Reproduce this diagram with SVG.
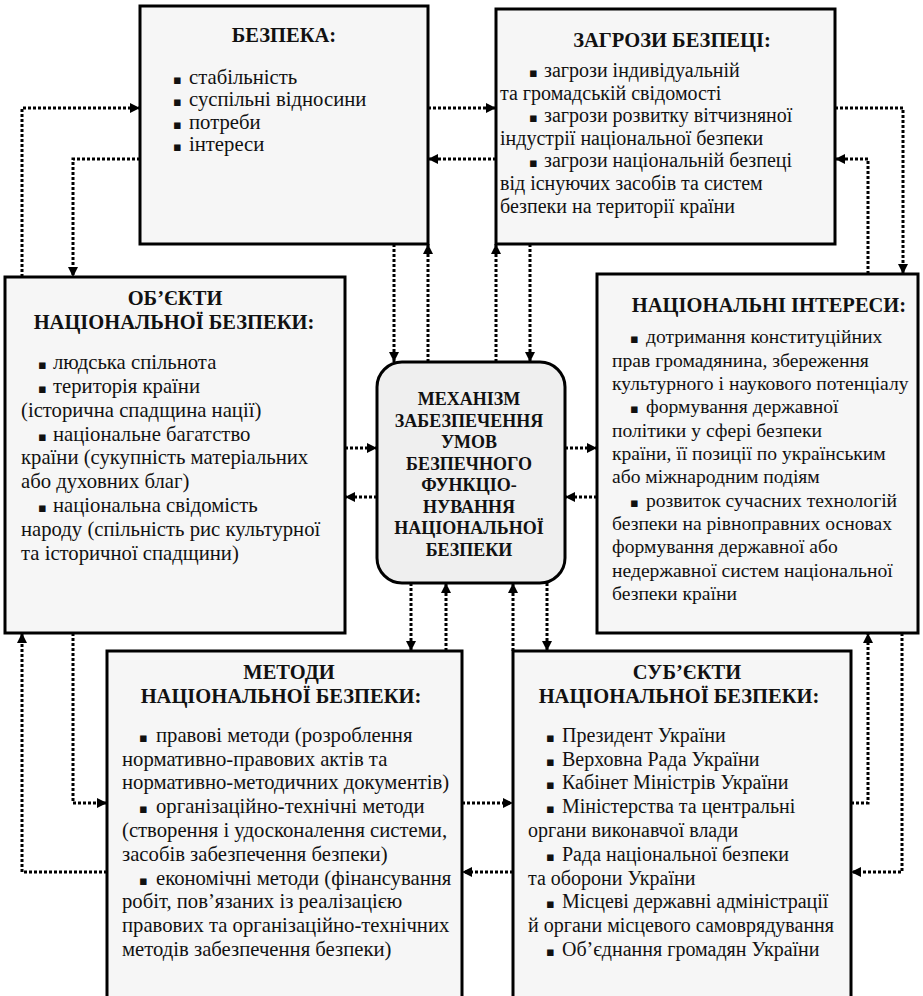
<svg xmlns="http://www.w3.org/2000/svg" width="923" height="996" viewBox="0 0 923 996">
  <defs>
    <marker id="ah" viewBox="0 0 10 10" refX="10" refY="5" markerWidth="10" markerHeight="10" markerUnits="userSpaceOnUse" orient="auto">
      <path d="M0,0 L10,5 L0,10 z" fill="#000"/>
    </marker>
    <style>
      .box { fill: #f6f6f6; stroke: #000; stroke-width: 3; }
      .core { fill: #efefef; stroke: #000; stroke-width: 3; }
      .link { fill: none; stroke: #000; stroke-width: 3; stroke-dasharray: 3 2; marker-end: url(#ah); }
      text { font-family: "Liberation Serif", "Times New Roman", serif; fill: #111; }
      .t { font-size: 20px; }
      .n { font-size: 19.6px; }
      .w { font-size: 20.7px; }
      .h { font-size: 20.5px; font-weight: bold; text-anchor: middle; }
      .m { font-size: 18px; font-weight: bold; text-anchor: middle; }
      .b { font-family: "DejaVu Sans", sans-serif; font-size: 13px; }
    </style>
  </defs>
  <rect width="923" height="996" fill="#fff"/>

  <!-- dotted connectors -->
  <g id="connectors">
    <path class="link" d="M22,277 V108 H140"/>
    <path class="link" d="M140,159 H73 V277"/>
    <path class="link" d="M428,108 H496"/>
    <path class="link" d="M496,159 H428"/>
    <path class="link" d="M835,108 H903 V274"/>
    <path class="link" d="M868,274 V159 H835"/>
    <path class="link" d="M394,244 V362"/>
    <path class="link" d="M428,362 V244"/>
    <path class="link" d="M496,362 V244"/>
    <path class="link" d="M530,244 V362"/>
    <path class="link" d="M345,448 H377"/>
    <path class="link" d="M377,497 H345"/>
    <path class="link" d="M565,448 H597"/>
    <path class="link" d="M597,497 H565"/>
    <path class="link" d="M411,583 V651"/>
    <path class="link" d="M446,651 V583"/>
    <path class="link" d="M513,651 V583"/>
    <path class="link" d="M547,583 V651"/>
    <path class="link" d="M73,633 V803 H107"/>
    <path class="link" d="M107,872 H22 V633"/>
    <path class="link" d="M462,803 H513"/>
    <path class="link" d="M513,872 H462"/>
    <path class="link" d="M851,803 H868 V633"/>
    <path class="link" d="M902,633 V872 H851"/>
  </g>

  <g id="security">
    <rect class="box" x="140" y="6" width="288" height="238"/>
    <text class="h" x="284" y="42">БЕЗПЕКА:</text>
    <text class="b" x="173" y="84">▪</text><text class="w" x="189" y="84">стабільність</text>
    <text class="b" x="173" y="106.3">▪</text><text class="w" x="189" y="106.3">суспільні відносини</text>
    <text class="b" x="173" y="128.6">▪</text><text class="w" x="189" y="128.6">потреби</text>
    <text class="b" x="173" y="151">▪</text><text class="w" x="189" y="151">інтереси</text>
  </g>

  <g id="threats">
    <rect class="box" x="496" y="9" width="339" height="235"/>
    <text class="h" x="672" y="47">ЗАГРОЗИ БЕЗПЕЦІ:</text>
    <text class="b" x="529" y="77">▪</text><text class="t" x="544" y="77">загрози індивідуальній</text>
    <text class="t" x="500" y="99.6">та громадській свідомості</text>
    <text class="b" x="529" y="122.2">▪</text><text class="t" x="544" y="122.2">загрози розвитку вітчизняної</text>
    <text class="t" x="500" y="144.8">індустрії національної безпеки</text>
    <text class="b" x="529" y="167.4">▪</text><text class="t" x="544" y="167.4">загрози національній безпеці</text>
    <text class="t" x="500" y="190">від існуючих засобів та систем</text>
    <text class="t" x="500" y="212.6">безпеки на території країни</text>
  </g>

  <g id="objects">
    <rect class="box" x="5" y="277" width="340" height="356"/>
    <text class="h" x="175" y="305">ОБ’ЄКТИ</text>
    <text class="h" x="174" y="329">НАЦІОНАЛЬНОЇ БЕЗПЕКИ:</text>
    <text class="b" x="38" y="369">▪</text><text class="w" x="53" y="369">людська спільнота</text>
    <text class="b" x="38" y="393">▪</text><text class="w" x="53" y="393">територія країни</text>
    <text class="w" x="21" y="417">(історична спадщина нації)</text>
    <text class="b" x="38" y="440.5">▪</text><text class="w" x="53" y="440.5">національне багатство</text>
    <text class="w" x="21" y="464">країни (сукупність матеріальних</text>
    <text class="w" x="21" y="488">або духовних благ)</text>
    <text class="b" x="38" y="512">▪</text><text class="w" x="53" y="512">національна свідомість</text>
    <text class="w" x="21" y="536">народу (спільність рис культурної</text>
    <text class="w" x="21" y="559.5">та історичної спадщини)</text>
  </g>

  <g id="mechanism">
    <rect class="core" x="377" y="362" width="188" height="221" rx="25" ry="25"/>
    <text class="m" x="469" y="405">МЕХАНІЗМ</text>
    <text class="m" x="469" y="426.5">ЗАБЕЗПЕЧЕННЯ</text>
    <text class="m" x="469" y="448">УМОВ</text>
    <text class="m" x="469" y="469.5">БЕЗПЕЧНОГО</text>
    <text class="m" x="469" y="491">ФУНКЦІО-</text>
    <text class="m" x="469" y="512.5">НУВАННЯ</text>
    <text class="m" x="469" y="534">НАЦІОНАЛЬНОЇ</text>
    <text class="m" x="469" y="555.5">БЕЗПЕКИ</text>
  </g>

  <g id="interests">
    <rect class="box" x="597" y="274" width="321" height="359"/>
    <text class="h" x="769" y="312">НАЦІОНАЛЬНІ ІНТЕРЕСИ:</text>
    <text class="b" x="630" y="343">▪</text><text class="n" x="646" y="343">дотримання конституційних</text>
    <text class="n" x="612" y="366.5">прав громадянина, збереження</text>
    <text class="n" x="612" y="390">культурного і наукового потенціалу</text>
    <text class="b" x="630" y="413">▪</text><text class="n" x="646" y="413">формування державної</text>
    <text class="n" x="612" y="436.5">політики у сфері безпеки</text>
    <text class="n" x="612" y="460">країни, її позиції по українським</text>
    <text class="n" x="612" y="483">або міжнародним подіям</text>
    <text class="b" x="630" y="506.5">▪</text><text class="n" x="646" y="506.5">розвиток сучасних технологій</text>
    <text class="n" x="612" y="530">безпеки на рівноправних основах</text>
    <text class="n" x="612" y="553">формування державної або</text>
    <text class="n" x="612" y="576.5">недержавної систем національної</text>
    <text class="n" x="612" y="600">безпеки країни</text>
  </g>

  <g id="methods">
    <rect class="box" x="107" y="651" width="355" height="370"/>
    <text class="h" x="289" y="679">МЕТОДИ</text>
    <text class="h" x="281" y="703">НАЦІОНАЛЬНОЇ БЕЗПЕКИ:</text>
    <text class="b" x="139" y="741.7">▪</text><text class="w" x="156" y="741.7">правові методи (розроблення</text>
    <text class="w" x="122" y="765.7">нормативно-правових актів та</text>
    <text class="w" x="122" y="789.3">нормативно-методичних документів)</text>
    <text class="b" x="139" y="813.3">▪</text><text class="w" x="156" y="813.3">організаційно-технічні методи</text>
    <text class="w" x="122" y="837.3">(створення і удосконалення системи,</text>
    <text class="w" x="122" y="861">засобів забезпечення безпеки)</text>
    <text class="b" x="139" y="885">▪</text><text class="w" x="156" y="885">економічні методи (фінансування</text>
    <text class="w" x="122" y="908.3">робіт, пов’язаних із реалізацією</text>
    <text class="w" x="122" y="932.3">правових та організаційно-технічних</text>
    <text class="w" x="122" y="956">методів забезпечення безпеки)</text>
  </g>

  <g id="subjects">
    <rect class="box" x="513" y="651" width="338" height="370"/>
    <text class="h" x="687" y="679">СУБ’ЄКТИ</text>
    <text class="h" x="679" y="703">НАЦІОНАЛЬНОЇ БЕЗПЕКИ:</text>
    <text class="b" x="546" y="741.7">▪</text><text class="t" x="562" y="741.7">Президент України</text>
    <text class="b" x="546" y="765.7">▪</text><text class="t" x="562" y="765.7">Верховна Рада України</text>
    <text class="b" x="546" y="789.3">▪</text><text class="t" x="562" y="789.3">Кабінет Міністрів України</text>
    <text class="b" x="546" y="813.3">▪</text><text class="t" x="562" y="813.3">Міністерства та центральні</text>
    <text class="t" x="528" y="837.3">органи виконавчої влади</text>
    <text class="b" x="546" y="861">▪</text><text class="t" x="562" y="861">Рада національної безпеки</text>
    <text class="t" x="528" y="885">та оборони України</text>
    <text class="b" x="546" y="908.3">▪</text><text class="t" x="562" y="908.3">Місцеві державні адміністрації</text>
    <text class="t" x="528" y="932.3">й органи місцевого самоврядування</text>
    <text class="b" x="546" y="956">▪</text><text class="t" x="562" y="956">Об’єднання громадян України</text>
  </g>
</svg>
